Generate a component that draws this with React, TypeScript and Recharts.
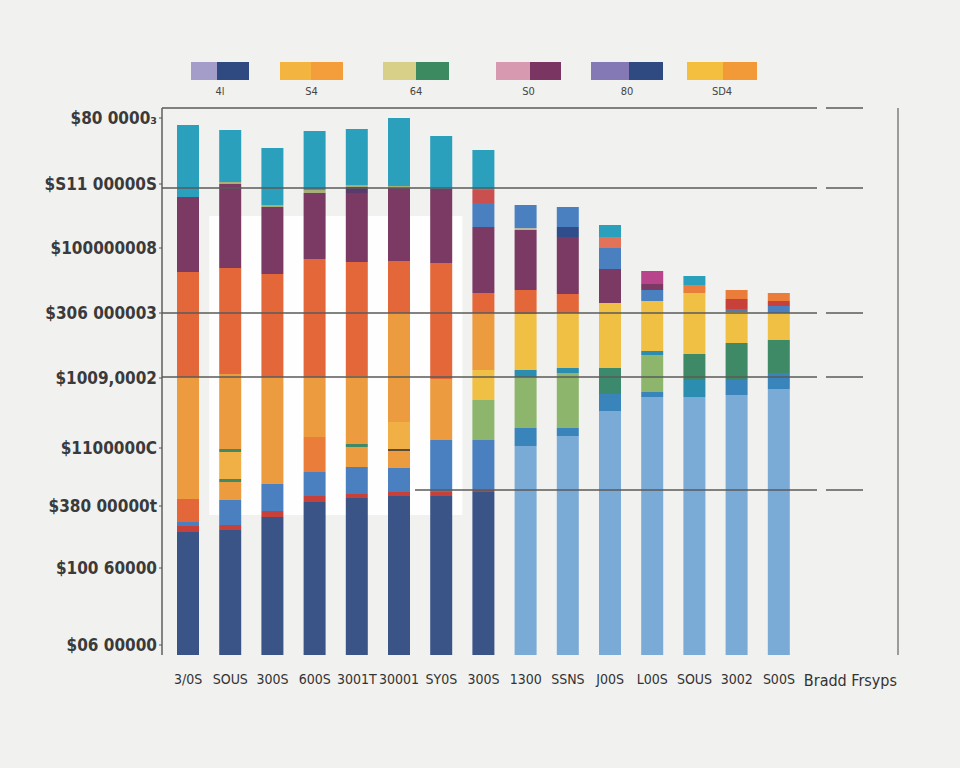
import { BarChart, Bar, XAxis, YAxis, Cell, ReferenceLine, ReferenceArea } from 'recharts'

// categories along the x axis (as printed)
const categories = ['3/0S', 'SOUS', '300S', '600S', '3001T', '30001', 'SY0S', '300S', '1300', 'SSNS', 'J00S', 'L00S', 'SOUS', '3002', 'S00S']
const axisTitle = 'Bradd Frsyps'

// y axis ticks (value scale, labels as printed)
const yTickValues = [537, 471, 407, 342, 277, 207, 149, 87, 10]
const yTickLabels = ['$80 0000₃', '$S11 00000S', '$100000008', '$306 000003', '$1009,0002', '$1100000C', '$380 00000t', '$100 60000', '$06 00000']

// stacked segments, bottom to top
const layer0 = [123, 125, 138, 153, 157, 159, 159, 163, 209, 219, 244, 258, 258, 260, 266]
const layer1 = [6, 5, 6, 6, 4, 4, 4, 2, 18, 8, 17, 5, 17, 15, 16]
const layer2 = [4, 25, 27, 24, 27, 24, 52, 50, 51, 55, 26, 37, 26, 37, 33]
const layer3 = [23, 18, 107, 35, 20, 17, 61, 40, 7, 5, 65, 4, 61, 31, 27]
const layer4 = [122, 3, 103, 60, 3, 2, 116, 30, 56, 55, 34, 50, 8, 3, 7]
const layer5 = [105, 27, 67, 118, 68, 27, 74, 57, 24, 19, 21, 11, 9, 10, 5]
const layer6 = [75, 3, 2, 66, 114, 109, 53, 20, 60, 57, 11, 6, 0, 9, 8]
const layer7 = [72, 75, 57, 3, 69, 52, 0, 66, 2, 10, 12, 13, 0, 0, 0]
const layer8 = [0, 106, 0, 59, 6, 73, 0, 24, 23, 20, 0, 0, 0, 0, 0]
const layer9 = [0, 84, 0, 0, 2, 2, 0, 13, 0, 0, 0, 0, 0, 0, 0]
const layer10 = [0, 2, 0, 0, 56, 68, 0, 40, 0, 0, 0, 0, 0, 0, 0]
const layer11 = [0, 52, 0, 0, 0, 0, 0, 0, 0, 0, 0, 0, 0, 0, 0]
const layers = [layer0, layer1, layer2, layer3, layer4, layer5, layer6, layer7, layer8, layer9, layer10, layer11]

const PALETTE: Record<string, string> = {
  N: '#3b5488', LB: '#7aabd6', R: '#c8403a', MB: '#3a84bc', B: '#4a80c0',
  LG: '#8db66c', TG: '#3b8a6e', G: '#3e8a66', T: '#2b8db0',
  O: '#ec9b3e', OM: '#eb7d3a', OR: '#e4673a', YO: '#f1b045', Y: '#f0c045',
  P: '#7a3a64', DP: '#5a3a6c', DK: '#5a4a3a', K: '#a8b07a', C: '#2aa0bc',
  GR: '#b8b8a8', DB: '#2e4d8a', S: '#e27358', SR: '#c9504e', M: '#b8458c', BG: '#5a7aa0',
}

// colour of each segment, per layer and bar
const layerColors = [
  ['N', 'N', 'N', 'N', 'N', 'N', 'N', 'N', 'LB', 'LB', 'LB', 'LB', 'LB', 'LB', 'LB'],
  ['R', 'R', 'R', 'R', 'R', 'R', 'R', 'R', 'MB', 'MB', 'MB', 'MB', 'T', 'MB', 'MB'],
  ['B', 'B', 'B', 'B', 'B', 'B', 'B', 'B', 'LG', 'LG', 'TG', 'LG', 'G', 'G', 'G'],
  ['OR', 'O', 'O', 'OM', 'O', 'O', 'O', 'LG', 'T', 'T', 'Y', 'T', 'Y', 'Y', 'Y'],
  ['O', 'G', 'OR', 'O', 'G', 'DK', 'OR', 'Y', 'Y', 'Y', 'P', 'Y', 'OM', 'BG', 'B'],
  ['OR', 'YO', 'P', 'OR', 'O', 'YO', 'P', 'O', 'OR', 'OR', 'B', 'B', 'C', 'R', 'R'],
  ['P', 'G', 'K', 'P', 'OR', 'O', 'C', 'OR', 'P', 'P', 'S', 'P', '', 'OM', 'OM'],
  ['C', 'O', 'C', 'K', 'P', 'OR', '', 'P', 'GR', 'DB', 'C', 'M', '', '', ''],
  ['', 'OR', '', 'C', 'DP', 'P', '', 'B', 'B', 'B', '', '', '', '', ''],
  ['', 'P', '', '', 'K', 'K', '', 'SR', '', '', '', '', '', '', ''],
  ['', 'K', '', '', 'C', 'C', '', 'C', '', '', '', '', '', '', ''],
  ['', 'C', '', '', '', '', '', '', '', '', '', '', '', '', ''],
]

// legend (two-tone swatches)
const legendLabels = ['4l', 'S4', '64', 'S0', '80', 'SD4']
const legendColorsA = ['#a49cc9', '#f3b540', '#d8d088', '#d699b0', '#8479b5', '#f4bf3f']
const legendColorsB = ['#2f4a80', '#f39e3a', '#3b8a60', '#7a3563', '#2e4a80', '#f39a38']
const legendLeft = [191, 280, 383, 496, 591, 687]
const legendSplit = [26, 31, 33, 34, 38, 36]
const legendWidth = [58, 63, 66, 65, 72, 70]

// horizontal rules
const ruleValues = [547, 467, 342, 278, 165]
const ruleStart = [0, 0, 0, 0, 253]

const data = categories.map((c, i) => {
  const row: Record<string, number | string> = { id: `c${i}`, label: c }
  layers.forEach((l, k) => { row[`l${k}`] = l[i] })
  return row
})

const ruleShape = (start: number) => (p: any) => (
  <g>
    <line x1={p.x1 + start} x2={p.x2 - 81} y1={p.y1} y2={p.y1} stroke="#5a5a5a" strokeWidth={1.4} />
    <line x1={p.x2 - 72} x2={p.x2 - 35} y1={p.y1} y2={p.y1} stroke="#5a5a5a" strokeWidth={1.4} />
  </g>
)

const font = "'DejaVu Sans Condensed', 'DejaVu Sans', sans-serif"

export default function App() {
  return (
    <div style={{ position: 'absolute', top: 0, left: 0, width: 960, height: 768, background: '#f1f1ef', overflow: 'hidden' }}>
      {legendLabels.map((lab, i) => (
        <div key={lab} style={{ position: 'absolute', left: legendLeft[i], top: 62, width: legendWidth[i] }}>
          <div style={{ display: 'flex', height: 18 }}>
            <div style={{ width: legendSplit[i], background: legendColorsA[i] }} />
            <div style={{ flex: 1, background: legendColorsB[i] }} />
          </div>
          <div style={{ textAlign: 'center', marginTop: 5, fontSize: 11, color: '#444', fontFamily: font }}>{lab}</div>
        </div>
      ))}
      <BarChart
        width={960}
        height={768}
        data={data}
        margin={{ top: 108, right: 0, bottom: 63, left: 0 }}
        style={{ position: 'absolute', top: 0, left: 0 }}
      >
        <ReferenceArea x1="c1" x2="c6" y1={140} y2={439} fill="#ffffff" fillOpacity={0.9} stroke="none" />
        <XAxis
          dataKey="id"
          height={50}
          padding={{ left: 5, right: 98 }}
          tickLine={false}
          axisLine={false}
          tickSize={0}
          tickMargin={19}
          interval={0}
          tickFormatter={(v) => categories[Number(String(v).slice(1))]}
          tick={{ fontSize: 14, fill: '#333', fontFamily: font }}
          label={{ value: axisTitle, position: 'insideRight', offset: 1, fontSize: 16, fill: '#333', fontFamily: font }}
        />
        <YAxis
          width={162}
          domain={[0, 547]}
          ticks={yTickValues}
          interval={0}
          tickSize={3}
          tickMargin={2}
          tickLine={{ stroke: '#555' }}
          axisLine={{ stroke: '#555', strokeWidth: 1.4 }}
          tickFormatter={(v) => yTickLabels[yTickValues.indexOf(Number(v))] ?? ''}
          tick={{ fontSize: 17, fontWeight: 700, fill: '#3a3a3a', fontFamily: font }}
        />
        <YAxis
          yAxisId="r"
          orientation="right"
          width={62}
          domain={[0, 547]}
          tick={false}
          tickLine={false}
          axisLine={{ stroke: '#777', strokeWidth: 1.4 }}
        />
        {layers.map((_, k) => (
          <Bar key={k} dataKey={`l${k}`} stackId="a" barSize={22} isAnimationActive={false}>
            {categories.map((_, i) => (
              <Cell key={i} fill={PALETTE[layerColors[k][i]] ?? 'transparent'} />
            ))}
          </Bar>
        ))}
        {ruleValues.map((v, i) => (
          <ReferenceLine key={v} y={v} shape={ruleShape(ruleStart[i])} />
        ))}
      </BarChart>
    </div>
  )
}
